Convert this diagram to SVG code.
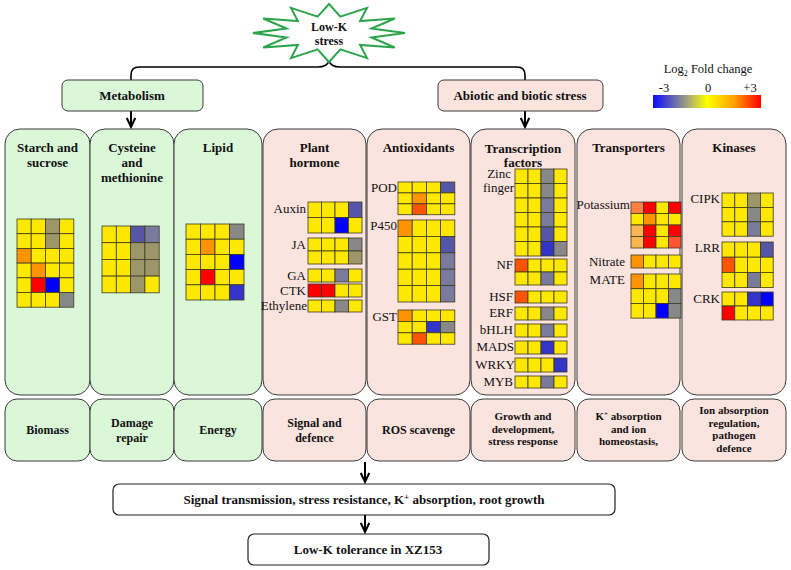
<svg xmlns="http://www.w3.org/2000/svg" width="791" height="570" viewBox="0 0 791 570">
<style>
.bg{fill:#fff}
.gr{fill:#daf7d8;stroke:#3a3a3a;stroke-width:1}
.pk{fill:#fbe3de;stroke:#3a3a3a;stroke-width:1}
.t{font-family:"Liberation Serif",serif;font-weight:bold;font-size:13px;text-anchor:middle;fill:#111}
.b{font-family:"Liberation Serif",serif;font-weight:bold;font-size:12px;text-anchor:middle;fill:#111}
.s{font-family:"Liberation Serif",serif;font-weight:bold;font-size:11px;text-anchor:middle;fill:#111}
.l{font-family:"Liberation Serif",serif;font-size:13px;text-anchor:end;fill:#111}
.lg{font-family:"Liberation Serif",serif;font-size:12.5px;text-anchor:middle;fill:#111}
.hm rect{stroke:#3b3b22;stroke-width:0.8}
.Y{fill:#ffe800}.O{fill:#9c9668}.G{fill:#888888}.S{fill:#7a7a9c}.P{fill:#5656a6}.B{fill:#0000ff}.M{fill:#3434c8}
.R{fill:#ff0000}.A{fill:#ff9400}.E{fill:#ff5500}.L{fill:#ffb650}.K{fill:#ff8040}.F{fill:#ff5533}
.ln{fill:none;stroke:#000;stroke-width:1.6}
.ar{fill:none;stroke:#000;stroke-width:2;marker-end:url(#ah)}
.box{fill:#fff;stroke:#222;stroke-width:1.2}
</style>
<defs>
<marker id="ah" viewBox="0 0 12 10" refX="10" refY="5" markerWidth="12" markerHeight="10" orient="auto" markerUnits="userSpaceOnUse">
<path d="M1,0.8 L10,5 L1,9.2" fill="none" stroke="#000" stroke-width="2"/>
</marker>
<linearGradient id="lgd" x1="0" y1="0" x2="1" y2="0">
<stop offset="0" stop-color="#0a0aff"/>
<stop offset="0.3" stop-color="#9a9a86"/>
<stop offset="0.5" stop-color="#ffff00"/>
<stop offset="0.75" stop-color="#ffa000"/>
<stop offset="1" stop-color="#ff0000"/>
</linearGradient>
</defs>
<rect class="bg" x="0" y="0" width="791" height="570"/>

<g id="connectors">
<path class="ln" d="M131,81 L131,75 Q131,67 139,67 L318,67 Q327,67 329,61 Q331,67 340,67 L517,67 Q525,67 525,75 L525,81"/>
<path class="ar" d="M131,111 L131,127"/>
<path class="ar" d="M525,111 L525,127"/>
<path class="ar" d="M365,462 L365,482"/>
<path class="ar" d="M365,515 L365,532"/>
</g>

<g id="star">
<polygon points="329,62 317.6,49.4 291,58.1 297.9,45 263.2,47.5 286.5,37.4 253,33 286.5,28.6 263.2,18.5 297.9,21 291,7.9 317.6,16.6 329,4 340.4,16.6 367,7.9 360.1,21 394.8,18.5 371.5,28.6 405,33 371.5,37.4 394.8,47.5 360.1,45 367,58.1 340.4,49.4" fill="#fff" stroke="#2ca44c" stroke-width="2" stroke-linejoin="miter"/>
<text class="b" x="329" y="31">Low-K</text>
<text class="b" x="329" y="45">stress</text>
</g>

<g id="metabolism">
<rect class="gr" x="62" y="80" width="141" height="31" rx="6"/>
<text class="t" x="132" y="100">Metabolism</text>
</g>
<g id="abiotic">
<rect class="pk" x="438" y="80" width="165" height="31" rx="6"/>
<text class="t" x="520" y="100">Abiotic and biotic stress</text>
</g>

<g id="legend">
<text class="lg" x="708" y="73">Log<tspan font-size="8" dy="3">2</tspan><tspan dy="-3"> Fold change</tspan></text>
<text class="lg" x="664" y="92">-3</text>
<text class="lg" x="708" y="92">0</text>
<text class="lg" x="750" y="92">+3</text>
<rect x="653" y="95" width="108" height="13" fill="url(#lgd)"/>
</g>

<!-- Columns -->
<g id="col-starch">
<rect class="gr" x="5" y="129" width="85" height="266" rx="15"/>
<text class="t" x="47.5" y="152">Starch and</text>
<text class="t" x="47.5" y="167">sucrose</text>
<g class="hm" transform="translate(17,219)">
<rect class="Y" x="0" y="0" width="14.2" height="14.7"/><rect class="Y" x="14.2" y="0" width="14.2" height="14.7"/><rect class="O" x="28.4" y="0" width="14.2" height="14.7"/><rect class="Y" x="42.6" y="0" width="14.2" height="14.7"/>
<rect class="Y" x="0" y="14.7" width="14.2" height="14.7"/><rect class="Y" x="14.2" y="14.7" width="14.2" height="14.7"/><rect class="O" x="28.4" y="14.7" width="14.2" height="14.7"/><rect class="Y" x="42.6" y="14.7" width="14.2" height="14.7"/>
<rect class="A" x="0" y="29.4" width="14.2" height="14.7"/><rect class="Y" x="14.2" y="29.4" width="14.2" height="14.7"/><rect class="Y" x="28.4" y="29.4" width="14.2" height="14.7"/><rect class="Y" x="42.6" y="29.4" width="14.2" height="14.7"/>
<rect class="Y" x="0" y="44.1" width="14.2" height="14.7"/><rect class="A" x="14.2" y="44.1" width="14.2" height="14.7"/><rect class="Y" x="28.4" y="44.1" width="14.2" height="14.7"/><rect class="Y" x="42.6" y="44.1" width="14.2" height="14.7"/>
<rect class="Y" x="0" y="58.8" width="14.2" height="14.7"/><rect class="R" x="14.2" y="58.8" width="14.2" height="14.7"/><rect class="B" x="28.4" y="58.8" width="14.2" height="14.7"/><rect class="Y" x="42.6" y="58.8" width="14.2" height="14.7"/>
<rect class="Y" x="0" y="73.5" width="14.2" height="14.7"/><rect class="Y" x="14.2" y="73.5" width="14.2" height="14.7"/><rect class="Y" x="28.4" y="73.5" width="14.2" height="14.7"/><rect class="G" x="42.6" y="73.5" width="14.2" height="14.7"/>
</g>
</g>

<g id="col-cysteine">
<rect class="gr" x="90" y="129" width="84" height="266" rx="15"/>
<text class="t" x="132" y="152">Cysteine</text>
<text class="t" x="132" y="167">and</text>
<text class="t" x="132" y="182">methionine</text>
<g class="hm" transform="translate(102,226)">
<rect class="Y" x="0" y="0" width="14.3" height="16.7"/><rect class="Y" x="14.3" y="0" width="14.3" height="16.7"/><rect class="P" x="28.6" y="0" width="14.3" height="16.7"/><rect class="S" x="42.9" y="0" width="14.3" height="16.7"/>
<rect class="Y" x="0" y="16.7" width="14.3" height="16.7"/><rect class="Y" x="14.3" y="16.7" width="14.3" height="16.7"/><rect class="O" x="28.6" y="16.7" width="14.3" height="16.7"/><rect class="O" x="42.9" y="16.7" width="14.3" height="16.7"/>
<rect class="Y" x="0" y="33.4" width="14.3" height="16.7"/><rect class="Y" x="14.3" y="33.4" width="14.3" height="16.7"/><rect class="O" x="28.6" y="33.4" width="14.3" height="16.7"/><rect class="O" x="42.9" y="33.4" width="14.3" height="16.7"/>
<rect class="Y" x="0" y="50.1" width="14.3" height="16.7"/><rect class="Y" x="14.3" y="50.1" width="14.3" height="16.7"/><rect class="O" x="28.6" y="50.1" width="14.3" height="16.7"/><rect class="Y" x="42.9" y="50.1" width="14.3" height="16.7"/>
</g>
</g>

<g id="col-lipid">
<rect class="gr" x="174" y="129" width="88" height="266" rx="15"/>
<text class="t" x="218" y="152">Lipid</text>
<g class="hm" transform="translate(186,224)">
<rect class="Y" x="0" y="0" width="14.5" height="15.2"/><rect class="Y" x="14.5" y="0" width="14.5" height="15.2"/><rect class="Y" x="29" y="0" width="14.5" height="15.2"/><rect class="G" x="43.5" y="0" width="14.5" height="15.2"/>
<rect class="Y" x="0" y="15.2" width="14.5" height="15.2"/><rect class="A" x="14.5" y="15.2" width="14.5" height="15.2"/><rect class="Y" x="29" y="15.2" width="14.5" height="15.2"/><rect class="Y" x="43.5" y="15.2" width="14.5" height="15.2"/>
<rect class="Y" x="0" y="30.4" width="14.5" height="15.2"/><rect class="Y" x="14.5" y="30.4" width="14.5" height="15.2"/><rect class="Y" x="29" y="30.4" width="14.5" height="15.2"/><rect class="B" x="43.5" y="30.4" width="14.5" height="15.2"/>
<rect class="Y" x="0" y="45.6" width="14.5" height="15.2"/><rect class="R" x="14.5" y="45.6" width="14.5" height="15.2"/><rect class="Y" x="29" y="45.6" width="14.5" height="15.2"/><rect class="Y" x="43.5" y="45.6" width="14.5" height="15.2"/>
<rect class="Y" x="0" y="60.8" width="14.5" height="15.2"/><rect class="Y" x="14.5" y="60.8" width="14.5" height="15.2"/><rect class="Y" x="29" y="60.8" width="14.5" height="15.2"/><rect class="M" x="43.5" y="60.8" width="14.5" height="15.2"/>
</g>
</g>

<g id="col-hormone">
<rect class="pk" x="263" y="129" width="103" height="266" rx="15"/>
<text class="t" x="314.5" y="152">Plant</text>
<text class="t" x="314.5" y="167">hormone</text>
<text class="l" x="306" y="213">Auxin</text>
<text class="l" x="306" y="249">JA</text>
<text class="l" x="306" y="280">GA</text>
<text class="l" x="306" y="295">CTK</text>
<text class="l" x="307" y="310">Ethylene</text>
<g class="hm" transform="translate(308,202)">
<rect class="Y" x="0" y="0" width="13.5" height="15.5"/><rect class="Y" x="13.5" y="0" width="13.5" height="15.5"/><rect class="Y" x="27" y="0" width="13.5" height="15.5"/><rect class="P" x="40.5" y="0" width="13.5" height="15.5"/>
<rect class="Y" x="0" y="15.5" width="13.5" height="15.5"/><rect class="Y" x="13.5" y="15.5" width="13.5" height="15.5"/><rect class="B" x="27" y="15.5" width="13.5" height="15.5"/><rect class="Y" x="40.5" y="15.5" width="13.5" height="15.5"/>
</g>
<g class="hm" transform="translate(308,238)">
<rect class="Y" x="0" y="0" width="13.5" height="13"/><rect class="Y" x="13.5" y="0" width="13.5" height="13"/><rect class="Y" x="27" y="0" width="13.5" height="13"/><rect class="G" x="40.5" y="0" width="13.5" height="13"/>
<rect class="Y" x="0" y="13" width="13.5" height="13"/><rect class="Y" x="13.5" y="13" width="13.5" height="13"/><rect class="Y" x="27" y="13" width="13.5" height="13"/><rect class="O" x="40.5" y="13" width="13.5" height="13"/>
</g>
<g class="hm" transform="translate(308,269)">
<rect class="Y" x="0" y="0" width="13.5" height="13"/><rect class="Y" x="13.5" y="0" width="13.5" height="13"/><rect class="S" x="27" y="0" width="13.5" height="13"/><rect class="Y" x="40.5" y="0" width="13.5" height="13"/>
</g>
<g class="hm" transform="translate(308,284)">
<rect class="R" x="0" y="0" width="13.5" height="13"/><rect class="R" x="13.5" y="0" width="13.5" height="13"/><rect class="Y" x="27" y="0" width="13.5" height="13"/><rect class="Y" x="40.5" y="0" width="13.5" height="13"/>
</g>
<g class="hm" transform="translate(308,300)">
<rect class="Y" x="0" y="0" width="13.5" height="12"/><rect class="Y" x="13.5" y="0" width="13.5" height="12"/><rect class="G" x="27" y="0" width="13.5" height="12"/><rect class="Y" x="40.5" y="0" width="13.5" height="12"/>
</g>
</g>

<g id="col-antioxidants">
<rect class="pk" x="367" y="129" width="103" height="266" rx="15"/>
<text class="t" x="418.5" y="152">Antioxidants</text>
<text class="l" x="397" y="192">POD</text>
<text class="l" x="397" y="230">P450</text>
<text class="l" x="397" y="321">GST</text>
<g class="hm" transform="translate(398,182)">
<rect class="Y" x="0" y="0" width="14.2" height="10.9"/><rect class="Y" x="14.2" y="0" width="14.2" height="10.9"/><rect class="Y" x="28.4" y="0" width="14.2" height="10.9"/><rect class="P" x="42.6" y="0" width="14.2" height="10.9"/>
<rect class="Y" x="0" y="10.9" width="14.2" height="10.9"/><rect class="A" x="14.2" y="10.9" width="14.2" height="10.9"/><rect class="Y" x="28.4" y="10.9" width="14.2" height="10.9"/><rect class="Y" x="42.6" y="10.9" width="14.2" height="10.9"/>
<rect class="Y" x="0" y="21.8" width="14.2" height="10.9"/><rect class="E" x="14.2" y="21.8" width="14.2" height="10.9"/><rect class="Y" x="28.4" y="21.8" width="14.2" height="10.9"/><rect class="Y" x="42.6" y="21.8" width="14.2" height="10.9"/>
</g>
<g class="hm" transform="translate(398,220)">
<rect class="A" x="0" y="0" width="14.2" height="16.4"/><rect class="Y" x="14.2" y="0" width="14.2" height="16.4"/><rect class="Y" x="28.4" y="0" width="14.2" height="16.4"/><rect class="Y" x="42.6" y="0" width="14.2" height="16.4"/>
<rect class="Y" x="0" y="16.4" width="14.2" height="16.4"/><rect class="Y" x="14.2" y="16.4" width="14.2" height="16.4"/><rect class="Y" x="28.4" y="16.4" width="14.2" height="16.4"/><rect class="P" x="42.6" y="16.4" width="14.2" height="16.4"/>
<rect class="Y" x="0" y="32.8" width="14.2" height="16.4"/><rect class="Y" x="14.2" y="32.8" width="14.2" height="16.4"/><rect class="Y" x="28.4" y="32.8" width="14.2" height="16.4"/><rect class="S" x="42.6" y="32.8" width="14.2" height="16.4"/>
<rect class="Y" x="0" y="49.2" width="14.2" height="16.4"/><rect class="Y" x="14.2" y="49.2" width="14.2" height="16.4"/><rect class="Y" x="28.4" y="49.2" width="14.2" height="16.4"/><rect class="S" x="42.6" y="49.2" width="14.2" height="16.4"/>
<rect class="Y" x="0" y="65.6" width="14.2" height="16.4"/><rect class="Y" x="14.2" y="65.6" width="14.2" height="16.4"/><rect class="Y" x="28.4" y="65.6" width="14.2" height="16.4"/><rect class="S" x="42.6" y="65.6" width="14.2" height="16.4"/>
</g>
<g class="hm" transform="translate(398,310)">
<rect class="A" x="0" y="0" width="14.2" height="11.4"/><rect class="Y" x="14.2" y="0" width="14.2" height="11.4"/><rect class="Y" x="28.4" y="0" width="14.2" height="11.4"/><rect class="Y" x="42.6" y="0" width="14.2" height="11.4"/>
<rect class="Y" x="0" y="11.4" width="14.2" height="11.4"/><rect class="Y" x="14.2" y="11.4" width="14.2" height="11.4"/><rect class="M" x="28.4" y="11.4" width="14.2" height="11.4"/><rect class="G" x="42.6" y="11.4" width="14.2" height="11.4"/>
<rect class="Y" x="0" y="22.8" width="14.2" height="11.4"/><rect class="E" x="14.2" y="22.8" width="14.2" height="11.4"/><rect class="Y" x="28.4" y="22.8" width="14.2" height="11.4"/><rect class="Y" x="42.6" y="22.8" width="14.2" height="11.4"/>
</g>
</g>

<g id="col-tf">
<rect class="pk" x="471" y="129" width="104" height="266" rx="15"/>
<text class="t" x="523" y="153">Transcription</text>
<text class="t" x="523" y="167">factors</text>
<text class="l" x="511" y="178" font-size="12">Zinc</text>
<text class="l" x="514" y="192" font-size="12">finger</text>
<text class="l" x="513" y="269">NF</text>
<text class="l" x="513" y="301">HSF</text>
<text class="l" x="513" y="317">ERF</text>
<text class="l" x="513" y="334">bHLH</text>
<text class="l" x="514" y="351">MADS</text>
<text class="l" x="515" y="369">WRKY</text>
<text class="l" x="513" y="386">MYB</text>
<g class="hm" transform="translate(515,169)">
<rect class="Y" x="0" y="0" width="13" height="14.5"/><rect class="Y" x="13" y="0" width="13" height="14.5"/><rect class="G" x="26" y="0" width="13" height="14.5"/><rect class="Y" x="39" y="0" width="13" height="14.5"/>
<rect class="Y" x="0" y="14.5" width="13" height="14.5"/><rect class="Y" x="13" y="14.5" width="13" height="14.5"/><rect class="G" x="26" y="14.5" width="13" height="14.5"/><rect class="Y" x="39" y="14.5" width="13" height="14.5"/>
<rect class="Y" x="0" y="29" width="13" height="14.5"/><rect class="Y" x="13" y="29" width="13" height="14.5"/><rect class="S" x="26" y="29" width="13" height="14.5"/><rect class="Y" x="39" y="29" width="13" height="14.5"/>
<rect class="Y" x="0" y="43.5" width="13" height="14.5"/><rect class="Y" x="13" y="43.5" width="13" height="14.5"/><rect class="S" x="26" y="43.5" width="13" height="14.5"/><rect class="Y" x="39" y="43.5" width="13" height="14.5"/>
<rect class="Y" x="0" y="58" width="13" height="14.5"/><rect class="Y" x="13" y="58" width="13" height="14.5"/><rect class="P" x="26" y="58" width="13" height="14.5"/><rect class="Y" x="39" y="58" width="13" height="14.5"/>
<rect class="Y" x="0" y="72.5" width="13" height="14.5"/><rect class="Y" x="13" y="72.5" width="13" height="14.5"/><rect class="M" x="26" y="72.5" width="13" height="14.5"/><rect class="G" x="39" y="72.5" width="13" height="14.5"/>
</g>
<g class="hm" transform="translate(515,259)">
<rect class="E" x="0" y="0" width="13" height="13"/><rect class="Y" x="13" y="0" width="13" height="13"/><rect class="Y" x="26" y="0" width="13" height="13"/><rect class="Y" x="39" y="0" width="13" height="13"/>
<rect class="Y" x="0" y="13" width="13" height="13"/><rect class="Y" x="13" y="13" width="13" height="13"/><rect class="S" x="26" y="13" width="13" height="13"/><rect class="Y" x="39" y="13" width="13" height="13"/>
</g>
<g class="hm" transform="translate(515,291)">
<rect class="E" x="0" y="0" width="13" height="12"/><rect class="Y" x="13" y="0" width="13" height="12"/><rect class="Y" x="26" y="0" width="13" height="12"/><rect class="Y" x="39" y="0" width="13" height="12"/>
</g>
<g class="hm" transform="translate(515,307)">
<rect class="Y" x="0" y="0" width="13" height="13"/><rect class="Y" x="13" y="0" width="13" height="13"/><rect class="G" x="26" y="0" width="13" height="13"/><rect class="Y" x="39" y="0" width="13" height="13"/>
</g>
<g class="hm" transform="translate(515,324)">
<rect class="Y" x="0" y="0" width="13" height="13"/><rect class="Y" x="13" y="0" width="13" height="13"/><rect class="S" x="26" y="0" width="13" height="13"/><rect class="Y" x="39" y="0" width="13" height="13"/>
</g>
<g class="hm" transform="translate(515,341)">
<rect class="Y" x="0" y="0" width="13" height="13"/><rect class="Y" x="13" y="0" width="13" height="13"/><rect class="M" x="26" y="0" width="13" height="13"/><rect class="Y" x="39" y="0" width="13" height="13"/>
</g>
<g class="hm" transform="translate(515,358)">
<rect class="Y" x="0" y="0" width="13" height="14"/><rect class="Y" x="13" y="0" width="13" height="14"/><rect class="Y" x="26" y="0" width="13" height="14"/><rect class="M" x="39" y="0" width="13" height="14"/>
</g>
<g class="hm" transform="translate(515,376)">
<rect class="Y" x="0" y="0" width="13" height="12"/><rect class="Y" x="13" y="0" width="13" height="12"/><rect class="S" x="26" y="0" width="13" height="12"/><rect class="Y" x="39" y="0" width="13" height="12"/>
</g>
</g>

<g id="col-transporters">
<rect class="pk" x="577" y="129" width="103" height="266" rx="15"/>
<text class="t" x="628.5" y="152">Transporters</text>
<text class="l" x="630" y="209">Potassium</text>
<text class="l" x="625" y="266">Nitrate</text>
<text class="l" x="625" y="284">MATE</text>
<g class="hm" transform="translate(631,202)">
<rect class="K" x="0" y="0" width="12.5" height="11.5"/><rect class="R" x="12.5" y="0" width="12.5" height="11.5"/><rect class="Y" x="25" y="0" width="12.5" height="11.5"/><rect class="R" x="37.5" y="0" width="12.5" height="11.5"/>
<rect class="Y" x="0" y="11.5" width="12.5" height="11.5"/><rect class="A" x="12.5" y="11.5" width="12.5" height="11.5"/><rect class="Y" x="25" y="11.5" width="12.5" height="11.5"/><rect class="Y" x="37.5" y="11.5" width="12.5" height="11.5"/>
<rect class="L" x="0" y="23" width="12.5" height="11.5"/><rect class="R" x="12.5" y="23" width="12.5" height="11.5"/><rect class="Y" x="25" y="23" width="12.5" height="11.5"/><rect class="R" x="37.5" y="23" width="12.5" height="11.5"/>
<rect class="L" x="0" y="34.5" width="12.5" height="11.5"/><rect class="R" x="12.5" y="34.5" width="12.5" height="11.5"/><rect class="Y" x="25" y="34.5" width="12.5" height="11.5"/><rect class="F" x="37.5" y="34.5" width="12.5" height="11.5"/>
</g>
<g class="hm" transform="translate(631,255)">
<rect class="A" x="0" y="0" width="12.5" height="13"/><rect class="Y" x="12.5" y="0" width="12.5" height="13"/><rect class="Y" x="25" y="0" width="12.5" height="13"/><rect class="Y" x="37.5" y="0" width="12.5" height="13"/>
</g>
<g class="hm" transform="translate(631,274)">
<rect class="A" x="0" y="0" width="12.5" height="14.7"/><rect class="Y" x="12.5" y="0" width="12.5" height="14.7"/><rect class="Y" x="25" y="0" width="12.5" height="14.7"/><rect class="Y" x="37.5" y="0" width="12.5" height="14.7"/>
<rect class="Y" x="0" y="14.7" width="12.5" height="14.7"/><rect class="Y" x="12.5" y="14.7" width="12.5" height="14.7"/><rect class="Y" x="25" y="14.7" width="12.5" height="14.7"/><rect class="G" x="37.5" y="14.7" width="12.5" height="14.7"/>
<rect class="Y" x="0" y="29.4" width="12.5" height="14.7"/><rect class="Y" x="12.5" y="29.4" width="12.5" height="14.7"/><rect class="B" x="25" y="29.4" width="12.5" height="14.7"/><rect class="G" x="37.5" y="29.4" width="12.5" height="14.7"/>
</g>
</g>

<g id="col-kinases">
<rect class="pk" x="682" y="129" width="104" height="266" rx="15"/>
<text class="t" x="734" y="152">Kinases</text>
<text class="l" x="720" y="203">CIPK</text>
<text class="l" x="720" y="252">LRR</text>
<text class="l" x="720" y="303">CRK</text>
<g class="hm" transform="translate(722,193)">
<rect class="Y" x="0" y="0" width="12.8" height="14.4"/><rect class="Y" x="12.8" y="0" width="12.8" height="14.4"/><rect class="O" x="25.6" y="0" width="12.8" height="14.4"/><rect class="Y" x="38.4" y="0" width="12.8" height="14.4"/>
<rect class="Y" x="0" y="14.4" width="12.8" height="14.4"/><rect class="Y" x="12.8" y="14.4" width="12.8" height="14.4"/><rect class="G" x="25.6" y="14.4" width="12.8" height="14.4"/><rect class="Y" x="38.4" y="14.4" width="12.8" height="14.4"/>
<rect class="Y" x="0" y="28.8" width="12.8" height="14.4"/><rect class="Y" x="12.8" y="28.8" width="12.8" height="14.4"/><rect class="S" x="25.6" y="28.8" width="12.8" height="14.4"/><rect class="Y" x="38.4" y="28.8" width="12.8" height="14.4"/>
</g>
<g class="hm" transform="translate(722,242)">
<rect class="Y" x="0" y="0" width="12.8" height="15.2"/><rect class="Y" x="12.8" y="0" width="12.8" height="15.2"/><rect class="Y" x="25.6" y="0" width="12.8" height="15.2"/><rect class="P" x="38.4" y="0" width="12.8" height="15.2"/>
<rect class="E" x="0" y="15.2" width="12.8" height="15.2"/><rect class="Y" x="12.8" y="15.2" width="12.8" height="15.2"/><rect class="Y" x="25.6" y="15.2" width="12.8" height="15.2"/><rect class="Y" x="38.4" y="15.2" width="12.8" height="15.2"/>
<rect class="Y" x="0" y="30.4" width="12.8" height="15.2"/><rect class="Y" x="12.8" y="30.4" width="12.8" height="15.2"/><rect class="S" x="25.6" y="30.4" width="12.8" height="15.2"/><rect class="Y" x="38.4" y="30.4" width="12.8" height="15.2"/>
</g>
<g class="hm" transform="translate(722,292)">
<rect class="Y" x="0" y="0" width="12.8" height="14"/><rect class="Y" x="12.8" y="0" width="12.8" height="14"/><rect class="M" x="25.6" y="0" width="12.8" height="14"/><rect class="B" x="38.4" y="0" width="12.8" height="14"/>
<rect class="R" x="0" y="14" width="12.8" height="14"/><rect class="Y" x="12.8" y="14" width="12.8" height="14"/><rect class="Y" x="25.6" y="14" width="12.8" height="14"/><rect class="Y" x="38.4" y="14" width="12.8" height="14"/>
</g>
</g>

<!-- Bottom outcome boxes -->
<g id="out-biomass"><rect class="gr" x="5" y="399" width="85" height="62" rx="12"/><text class="b" x="47.5" y="434">Biomass</text></g>
<g id="out-damage"><rect class="gr" x="90" y="399" width="84" height="62" rx="12"/><text class="b" x="132" y="427">Damage</text><text class="b" x="132" y="442">repair</text></g>
<g id="out-energy"><rect class="gr" x="174" y="399" width="88" height="62" rx="12"/><text class="b" x="218" y="434">Energy</text></g>
<g id="out-signal"><rect class="pk" x="263" y="399" width="103" height="62" rx="12"/><text class="b" x="314.5" y="427">Signal and</text><text class="b" x="314.5" y="442">defence</text></g>
<g id="out-ros"><rect class="pk" x="367" y="399" width="103" height="62" rx="12"/><text class="b" x="418.5" y="434">ROS scavenge</text></g>
<g id="out-growth"><rect class="pk" x="471" y="399" width="104" height="62" rx="12"/><text class="s" x="523" y="420">Growth and</text><text class="s" x="523" y="432.5">development,</text><text class="s" x="523" y="445">stress response</text></g>
<g id="out-k"><rect class="pk" x="577" y="399" width="103" height="62" rx="12"/><text class="s" x="628.5" y="420">K<tspan font-size="7" dy="-4">+</tspan><tspan dy="4"> absorption</tspan></text><text class="s" x="628.5" y="432.5">and ion</text><text class="s" x="628.5" y="445">homeostasis,</text></g>
<g id="out-ion"><rect class="pk" x="682" y="399" width="104" height="62" rx="12"/><text class="s" x="734" y="414">Ion absorption</text><text class="s" x="734" y="426.5">regulation,</text><text class="s" x="734" y="439">pathogen</text><text class="s" x="734" y="451.5">defence</text></g>

<g id="summary">
<rect class="box" x="113" y="484" width="502" height="31" rx="6"/>
<text class="t" x="364" y="504">Signal transmission, stress resistance, K<tspan font-size="9" dy="-4">+</tspan><tspan dy="4"> absorption, root growth</tspan></text>
</g>
<g id="tolerance">
<rect class="box" x="248" y="534" width="241" height="31" rx="6"/>
<text class="t" x="368" y="554">Low-K tolerance in XZ153</text>
</g>
</svg>
